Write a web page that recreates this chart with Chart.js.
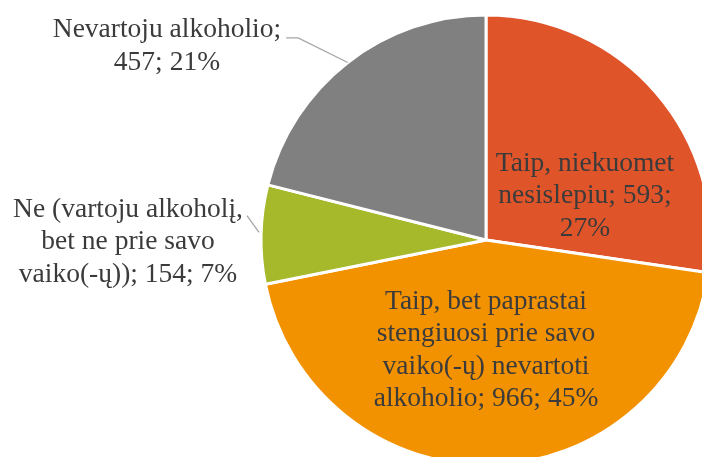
<!DOCTYPE html>
<html>
<head>
<meta charset="utf-8">
<script src="https://cdn.jsdelivr.net/npm/chart.js@4/dist/chart.umd.min.js"></script>
<style>
  html, body { margin: 0; padding: 0; background: #fff; }
  #box { position: relative; width: 702px; height: 457px; overflow: hidden; }
  #graficoPie { position: absolute; left: 0; top: 0; }
</style>
</head>
<body>
<div id="box"><canvas id="graficoPie" width="760" height="520"></canvas></div>
<script>
// Duomenys
const labels = [
  ['Taip, niekuomet', 'nesislepiu; 593;', '27%'],
  ['Taip, bet paprastai', 'stengiuosi prie savo', 'vaiko(-ų) nevartoti', 'alkoholio; 966; 45%'],
  ['Ne (vartoju alkoholį,', 'bet ne prie savo', 'vaiko(-ų)); 154; 7%'],
  ['Nevartoju alkoholio;', '457; 21%']
]
const values = [593, 966, 154, 457]
const colors = ['#E0542A', '#F39200', '#A5B92B', '#808080']

// etikečių vieta (dalimis nuo spindulio) ir ar reikia linijos
const labelSpot = [
  { fx: 0.44, fy: -0.196, line: false },
  { fx: 0.0, fy: 0.49, line: false },
  { fx: -1.591, fy: 0.009, line: true },
  { fx: -1.418, fy: -0.862, line: true }
]

const FONT = '27.5px "Liberation Serif"'
const LINE_H = 32.5

const pieLabels = {
  id: 'pieLabels',
  afterDatasetsDraw(chart) {
    const ctx = chart.ctx
    const arcs = chart.getDatasetMeta(0).data
    ctx.save()
    ctx.font = FONT
    ctx.textAlign = 'center'
    ctx.textBaseline = 'middle'
    arcs.forEach((arc, i) => {
      const p = arc.getProps(['x', 'y', 'startAngle', 'endAngle', 'outerRadius'], true)
      const spot = labelSpot[i]
      const cx = p.x + spot.fx * p.outerRadius
      const cy = p.y + spot.fy * p.outerRadius
      const lines = labels[i]
      const top = cy - (lines.length - 1) * LINE_H / 2

      if (spot.line) {
        const mid = (p.startAngle + p.endAngle) / 2
        const ex = p.x + Math.cos(mid) * p.outerRadius
        const ey = p.y + Math.sin(mid) * p.outerRadius
        ctx.strokeStyle = '#A6A6A6'
        ctx.lineWidth = 1.3
        ctx.beginPath()
        const w = ctx.measureText(lines[0]).width
        if (i === 3) {
          const sx = cx + w / 2 + 5
          const sy = top + 8
          ctx.moveTo(sx, sy)
          ctx.lineTo(sx + 12, sy)
          ctx.lineTo(ex, ey)
        } else {
          ctx.moveTo(cx + w / 2 + 4, top + 6)
          ctx.lineTo(ex - 2, ey - 2)
        }
        ctx.stroke()
      }

      ctx.fillStyle = '#3B3B3B'
      lines.forEach((t, k) => ctx.fillText(t, cx, top + k * LINE_H))
    })
    ctx.restore()
  }
}

const pieCanvas = document.getElementById('graficoPie')
const pieChart = new Chart(pieCanvas, {
  type: 'pie',
  data: {
    labels: labels.map(l => l.join(' ')),
    datasets: [{
      data: values,
      backgroundColor: colors,
      borderColor: '#FFFFFF',
      borderWidth: 3
    }]
  },
  options: {
    responsive: false,
    animation: false,
    layout: { padding: { left: 259.5, top: 13.5, right: 47.5, bottom: 53.5 } },
    plugins: {
      legend: { display: false },
      tooltip: { enabled: false }
    }
  },
  plugins: [pieLabels]
})
</script>
</body>
</html>
